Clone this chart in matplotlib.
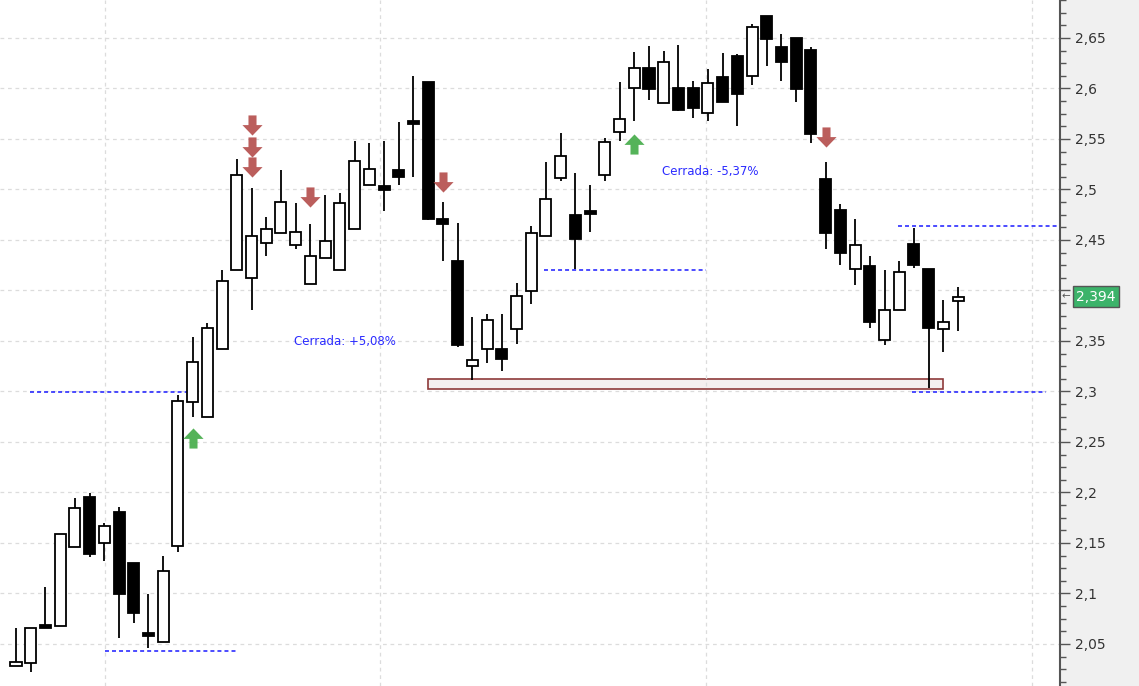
import numpy as np
import matplotlib
matplotlib.use("Agg")
import matplotlib.pyplot as plt
from matplotlib.path import Path
from matplotlib.patches import Rectangle
from matplotlib.ticker import FixedLocator, MultipleLocator, FuncFormatter
import matplotlib.transforms as mtransforms

# velas (OHLC)
opens = [2.028, 2.031, 2.069, 2.068, 2.146, 2.196, 2.150, 2.181, 2.130, 2.061,
         2.052, 2.147, 2.290, 2.275, 2.342, 2.420, 2.412, 2.447, 2.457, 2.445,
         2.406, 2.432, 2.420, 2.461, 2.504, 2.503, 2.519, 2.568, 2.606, 2.471,
         2.429, 2.325, 2.342, 2.342, 2.362, 2.399, 2.454, 2.511, 2.475, 2.479,
         2.514, 2.557, 2.600, 2.620, 2.586, 2.600, 2.600, 2.576, 2.611, 2.632,
         2.612, 2.672, 2.641, 2.650, 2.638, 2.510, 2.480, 2.421, 2.424, 2.351,
         2.381, 2.446, 2.421, 2.362, 2.390]
highs = [2.066, 2.066, 2.106, 2.159, 2.195, 2.199, 2.170, 2.186, 2.130, 2.099,
         2.137, 2.297, 2.354, 2.368, 2.420, 2.530, 2.501, 2.473, 2.519, 2.487,
         2.466, 2.495, 2.497, 2.548, 2.546, 2.548, 2.567, 2.612, 2.606, 2.488,
         2.467, 2.374, 2.377, 2.377, 2.407, 2.464, 2.527, 2.556, 2.516, 2.504,
         2.551, 2.606, 2.636, 2.642, 2.637, 2.643, 2.607, 2.619, 2.635, 2.634,
         2.664, 2.672, 2.654, 2.650, 2.641, 2.527, 2.486, 2.471, 2.434, 2.420,
         2.429, 2.462, 2.421, 2.391, 2.403]
lows = [2.028, 2.022, 2.066, 2.068, 2.146, 2.136, 2.132, 2.056, 2.071, 2.046,
        2.052, 2.141, 2.275, 2.275, 2.342, 2.420, 2.381, 2.434, 2.457, 2.441,
        2.406, 2.432, 2.420, 2.461, 2.504, 2.479, 2.504, 2.512, 2.470, 2.429,
        2.344, 2.311, 2.328, 2.320, 2.347, 2.387, 2.454, 2.508, 2.421, 2.458,
        2.508, 2.548, 2.568, 2.589, 2.586, 2.578, 2.571, 2.568, 2.587, 2.563,
        2.603, 2.622, 2.607, 2.587, 2.546, 2.441, 2.425, 2.405, 2.363, 2.346,
        2.381, 2.422, 2.303, 2.339, 2.360]
closes = [2.032, 2.066, 2.066, 2.159, 2.185, 2.139, 2.167, 2.099, 2.081, 2.058,
          2.122, 2.291, 2.329, 2.363, 2.409, 2.514, 2.454, 2.461, 2.488, 2.458,
          2.434, 2.449, 2.487, 2.528, 2.520, 2.499, 2.512, 2.565, 2.471, 2.466,
          2.346, 2.331, 2.371, 2.332, 2.395, 2.457, 2.491, 2.533, 2.451, 2.476,
          2.547, 2.570, 2.620, 2.599, 2.626, 2.579, 2.581, 2.605, 2.587, 2.595,
          2.661, 2.649, 2.626, 2.599, 2.555, 2.457, 2.437, 2.445, 2.369, 2.381,
          2.418, 2.425, 2.363, 2.369, 2.394]

# señales
down_idx = [16, 16, 16, 20, 29, 55]
down_price = [2.564, 2.542, 2.522, 2.493, 2.507, 2.552]
up_idx = [12, 42]
up_price = [2.254, 2.545]

# soportes / resistencias (precio, desde, hasta)
levels = [(2.2995, 0.95, 11.8), (2.043, 6.05, 15.0), (2.4203, 35.9, 46.9),
          (2.4639, 59.9, 70.8), (2.2995, 60.9, 70.0)]
zone = (2.3025, 2.3124, 28.0, 63.0)

trades = [("Cerrada: +5,08%", 18.9, 2.349), ("Cerrada: -5,37%", 43.9, 2.518)]
last_price = 2.394
day_breaks = [6.05, 24.73, 46.9, 69.0]

o = np.array(opens); h = np.array(highs); l = np.array(lows); c = np.array(closes)
x = np.arange(len(o))
up = c >= o

fig = plt.figure(figsize=(11.39, 6.86), dpi=100, facecolor="#f0f0f0")
ax = fig.add_axes([0, 0, 1060 / 1139, 1])
ax.set_facecolor("white")

ax.set_xlim(-1.087, 70.92)
ax.set_ylim(2.0084, 2.6876)

# grid
ax.yaxis.set_major_locator(MultipleLocator(0.05))
ax.yaxis.set_minor_locator(MultipleLocator(0.0125))
ax.xaxis.set_major_locator(FixedLocator(day_breaks))
ax.grid(True, which="major", color="#dcdcdc", linestyle=(0, (3, 3)), linewidth=0.9, zorder=0)
ax.tick_params(axis="x", length=0, labelbottom=False)

# zona
ax.add_patch(Rectangle((zone[2], zone[0]), zone[3] - zone[2], zone[1] - zone[0],
                       facecolor="#f4efef", edgecolor="#8e3a3a", linewidth=1.2, zorder=1))

for price, x0, x1 in levels:
    ax.hlines(price, x0, x1, colors="#1a1aff", linestyles=(0, (2.6, 2.0)), linewidth=1.1, zorder=2)

# velas
ax.vlines(x, l, h, colors="black", linewidth=1.3, zorder=3)
body_w = 0.75
ax.bar(x[up], c[up] - o[up], bottom=o[up], width=body_w, color="white",
       edgecolor="black", linewidth=1.3, zorder=4)
ax.bar(x[~up], o[~up] - c[~up], bottom=c[~up], width=body_w, color="black",
       edgecolor="black", linewidth=1.3, zorder=4)

# flechas
down_arrow = Path([(-0.2, 0.5), (0.2, 0.5), (0.2, 0.02), (0.5, 0.02), (0, -0.5),
                   (-0.5, 0.02), (-0.2, 0.02), (-0.2, 0.5)], closed=True)
up_arrow = Path([(px, -py) for px, py in down_arrow.vertices], closed=True)
ax.scatter(down_idx, down_price, marker=down_arrow, s=210, color="#b5504e",
           alpha=0.92, linewidths=0, zorder=5)
ax.scatter(up_idx, up_price, marker=up_arrow, s=210, color="#4caf50",
           alpha=0.95, linewidths=0, zorder=5)

for txt, tx, ty in trades:
    ax.text(tx, ty, txt, color="#2b2bff", fontsize=8.5, ha="left", va="center", zorder=6)


# eje derecho (la etiqueta 2,4 queda tapada por el precio actual)
def fmt(v, pos):
    if abs(v - round(last_price, 1)) < 1e-6:
        return ""
    return ("%g" % round(v, 3)).replace(".", ",")


for side in ["left", "top", "bottom"]:
    ax.spines[side].set_visible(False)
ax.spines["right"].set_color("#555555")
ax.spines["right"].set_linewidth(1.5)
ax.yaxis.tick_right()
ax.yaxis.set_major_formatter(FuncFormatter(fmt))
ax.tick_params(axis="y", which="major", length=7, width=1, colors="#555555",
               labelcolor="#333333", labelsize=10, pad=4)
ax.tick_params(axis="y", which="minor", length=4, width=1, colors="#555555")

trans = mtransforms.blended_transform_factory(ax.transAxes, ax.transData)
ax.text(1.001, last_price, "\u2190", transform=trans, fontsize=7.5, color="#555555",
        ha="left", va="center", clip_on=False)
ax.text(1.0155, last_price, ("%.3f" % last_price).replace(".", ","), transform=trans,
        fontsize=10, color="white", ha="left", va="center", clip_on=False,
        bbox=dict(boxstyle="square,pad=0.22", facecolor="#3cb36a", edgecolor="#555555", linewidth=1))

fig.savefig("out.png", dpi=100, facecolor=fig.get_facecolor())
